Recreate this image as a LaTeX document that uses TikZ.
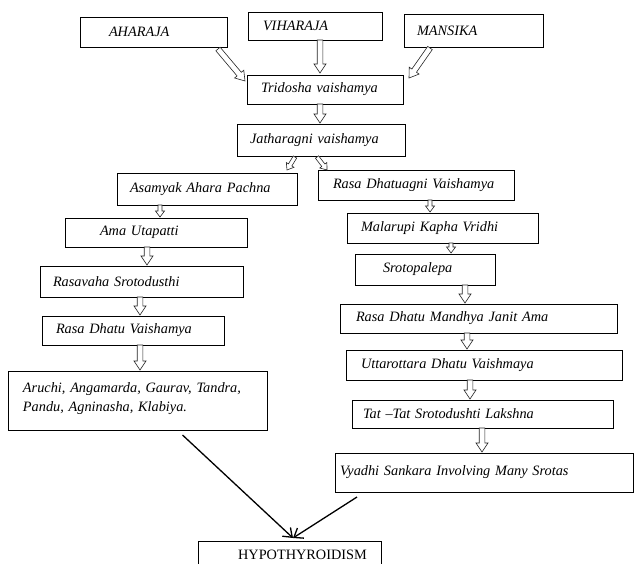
\documentclass[tikz,border=0pt]{standalone}
\usepackage{fontspec}
\setmainfont{Liberation Serif}
\usetikzlibrary{calc,arrows.meta}
\newcommand\holsw{2.8pt}
\newcommand\holhw{6pt}
\newcommand\holhl{9pt}
\newcommand\bx[7]{%
  \pgfmathsetmacro\bxtw{#4-#2-2*(#6-#2)}%
  \pgfmathsetmacro\bxin{#6-#2}%
  \pgfmathsetmacro\bxh{#5-#3}%
  \node[box, text width=\bxtw pt, inner xsep=\bxin pt, minimum height=\bxh pt, anchor=north west] (#1) at (#2,#3) {#7};}
\tikzset{
  box/.style={draw=black, line width=0.8pt, inner ysep=0pt, outer sep=0pt, align=left,
    font=\fontsize{14.3}{19}\selectfont\itshape},
  hollow/.style={draw=black!85, fill=white, line width=0.6pt, line join=miter,
    to path={let \p1=(\tikztostart), \p2=(\tikztotarget),
      \n1={atan2(\y2-\y1,\x2-\x1)}, \n2={veclen(\x2-\x1,\y2-\y1)-\holhl} in
      ($(\p1)+(\n1+90:\holsw)$) -- ($(\p1)+(\n1:\n2)+(\n1+90:\holsw)$)
      -- ($(\p1)+(\n1:\n2)+(\n1+90:\holhw)$) -- (\p2)
      -- ($(\p1)+(\n1:\n2)+(\n1-90:\holhw)$) -- ($(\p1)+(\n1:\n2)+(\n1-90:\holsw)$)
      -- ($(\p1)+(\n1-90:\holsw)$) -- cycle}},
  hollow small/.style={hollow, /utils/exec={\def\holsw{2pt}\def\holhw{4.5pt}\def\holhl{6pt}}},
  conn/.style={draw=black, line width=1.3pt, -{Straight Barb[length=8pt,width=12pt]}}
}
\begin{document}
\begin{tikzpicture}[x=1pt,y=-1pt]
\useasboundingbox (0,0) rectangle (635,563);
\clip (0,0) rectangle (635,563);
% boxes: name, x1, y1, x2, y2, text-x, text
\bx{ahar}{80}{17}{227}{47}{109}{AHARAJA}
\bx{vih}{248}{12}{382}{40}{263}{VIHARAJA}
\bx{mans}{404}{14}{543}{47}{417}{MANSIKA}
\bx{trid}{247}{75}{403}{104}{261}{Tridosha vaishamya}
\bx{jath}{237}{124}{405}{156}{250}{Jatharagni vaishamya}
\bx{asam}{117}{173}{297}{205}{130}{Asamyak Ahara Pachna}
\bx{rda}{318}{170}{514}{200}{333}{Rasa Dhatuagni Vaishamya}
\bx{ama}{65}{218}{247}{247}{100}{Ama Utapatti}
\bx{rasav}{40}{266}{243}{297}{53}{Rasavaha Srotodusthi}
\bx{rdv}{42}{316}{224}{345}{56}{Rasa Dhatu Vaishamya}
\bx{aru}{8}{371}{267}{430}{23}{Aruchi, Angamarda, Gaurav, Tandra,\\Pandu, Agninasha, Klabiya.\\[-12pt]\mbox{}}
\bx{mal}{347}{213}{538}{243}{361}{Malarupi Kapha Vridhi}
\bx{sro}{355}{254}{495}{285}{383}{Srotopalepa}
\bx{man}{340}{304}{617}{333}{356}{Rasa Dhatu Mandhya Janit Ama}
\bx{utt}{346}{350}{622}{380}{361}{Uttarottara Dhatu Vaishmaya}
\bx{tat}{352}{400}{613}{428}{363}{Tat --Tat Srotodushti Lakshna}
\bx{vya}{335}{453}{633}{492}{340}{Vyadhi Sankara Involving Many Srotas}
\node[draw=black, line width=0.8pt, outer sep=0pt, inner sep=0pt, minimum width=183pt, minimum height=28pt,
  anchor=north west, font=\fontsize{14.3}{17}\selectfont] (hypo) at (198,541) {\hspace*{26pt}HYPOTHYROIDISM};
% hollow arrows
\draw[hollow] ($(ahar.south east)+(-9,2)$) to ($(trid.north west)+(-2,6)$);
\draw[hollow] ($(vih.south)+(5,0)$) to ($(trid.north)+(-5,-2)$);
\draw[hollow] ($(mans.south west)+(26,1)$) to ($(trid.north east)+(6,3)$);
\draw[hollow] ($(trid.south)+(-5,0)$) to ($(jath.north)+(-1,-1)$);
\draw[hollow small] ($(jath.south)+(-26,1)$) to ($(asam.north east)+(-10,-3)$);
\draw[hollow small] ($(jath.south)+(-4,1)$) to ($(rda.north west)+(9,0)$);
\draw[hollow small] ($(asam.south)+(-47,0)$) to ($(ama.north)+(4,-1)$);
\draw[hollow] ($(ama.south)+(-9,0)$) to ($(rasav.north)+(5.5,-1)$);
\draw[hollow] ($(rasav.south)+(-1.5,0)$) to ($(rdv.north)+(7,-1)$);
\draw[hollow] ($(rdv.south)+(7,0)$) to ($(aru.north)+(2.5,-1)$);
\draw[hollow small] ($(rda.south)+(14,0)$) to ($(mal.north)+(-12.5,-1)$);
\draw[hollow small] ($(mal.south)+(8.5,0)$) to ($(sro.north)+(26,-1)$);
\draw[hollow] ($(sro.south)+(40,0)$) to ($(man.north)+(-13.5,-1)$);
\draw[hollow] ($(man.south)+(-11.5,0)$) to ($(utt.north)+(-17,-1)$);
\draw[hollow] ($(utt.south)+(-14,0)$) to ($(tat.north)+(-12.5,-1)$);
\draw[hollow] ($(tat.south)+(-0.5,0)$) to ($(vya.north)+(-2,-1)$);
% connectors to hypothyroidism
\draw[conn] ($(aru.south)+(45,5)$) -- ($(hypo.north)+(3.5,-3)$);
\draw[conn] ($(vya.south west)+(22,5)$) -- ($(hypo.north)+(3.5,-3)$);
\end{tikzpicture}
\end{document}
